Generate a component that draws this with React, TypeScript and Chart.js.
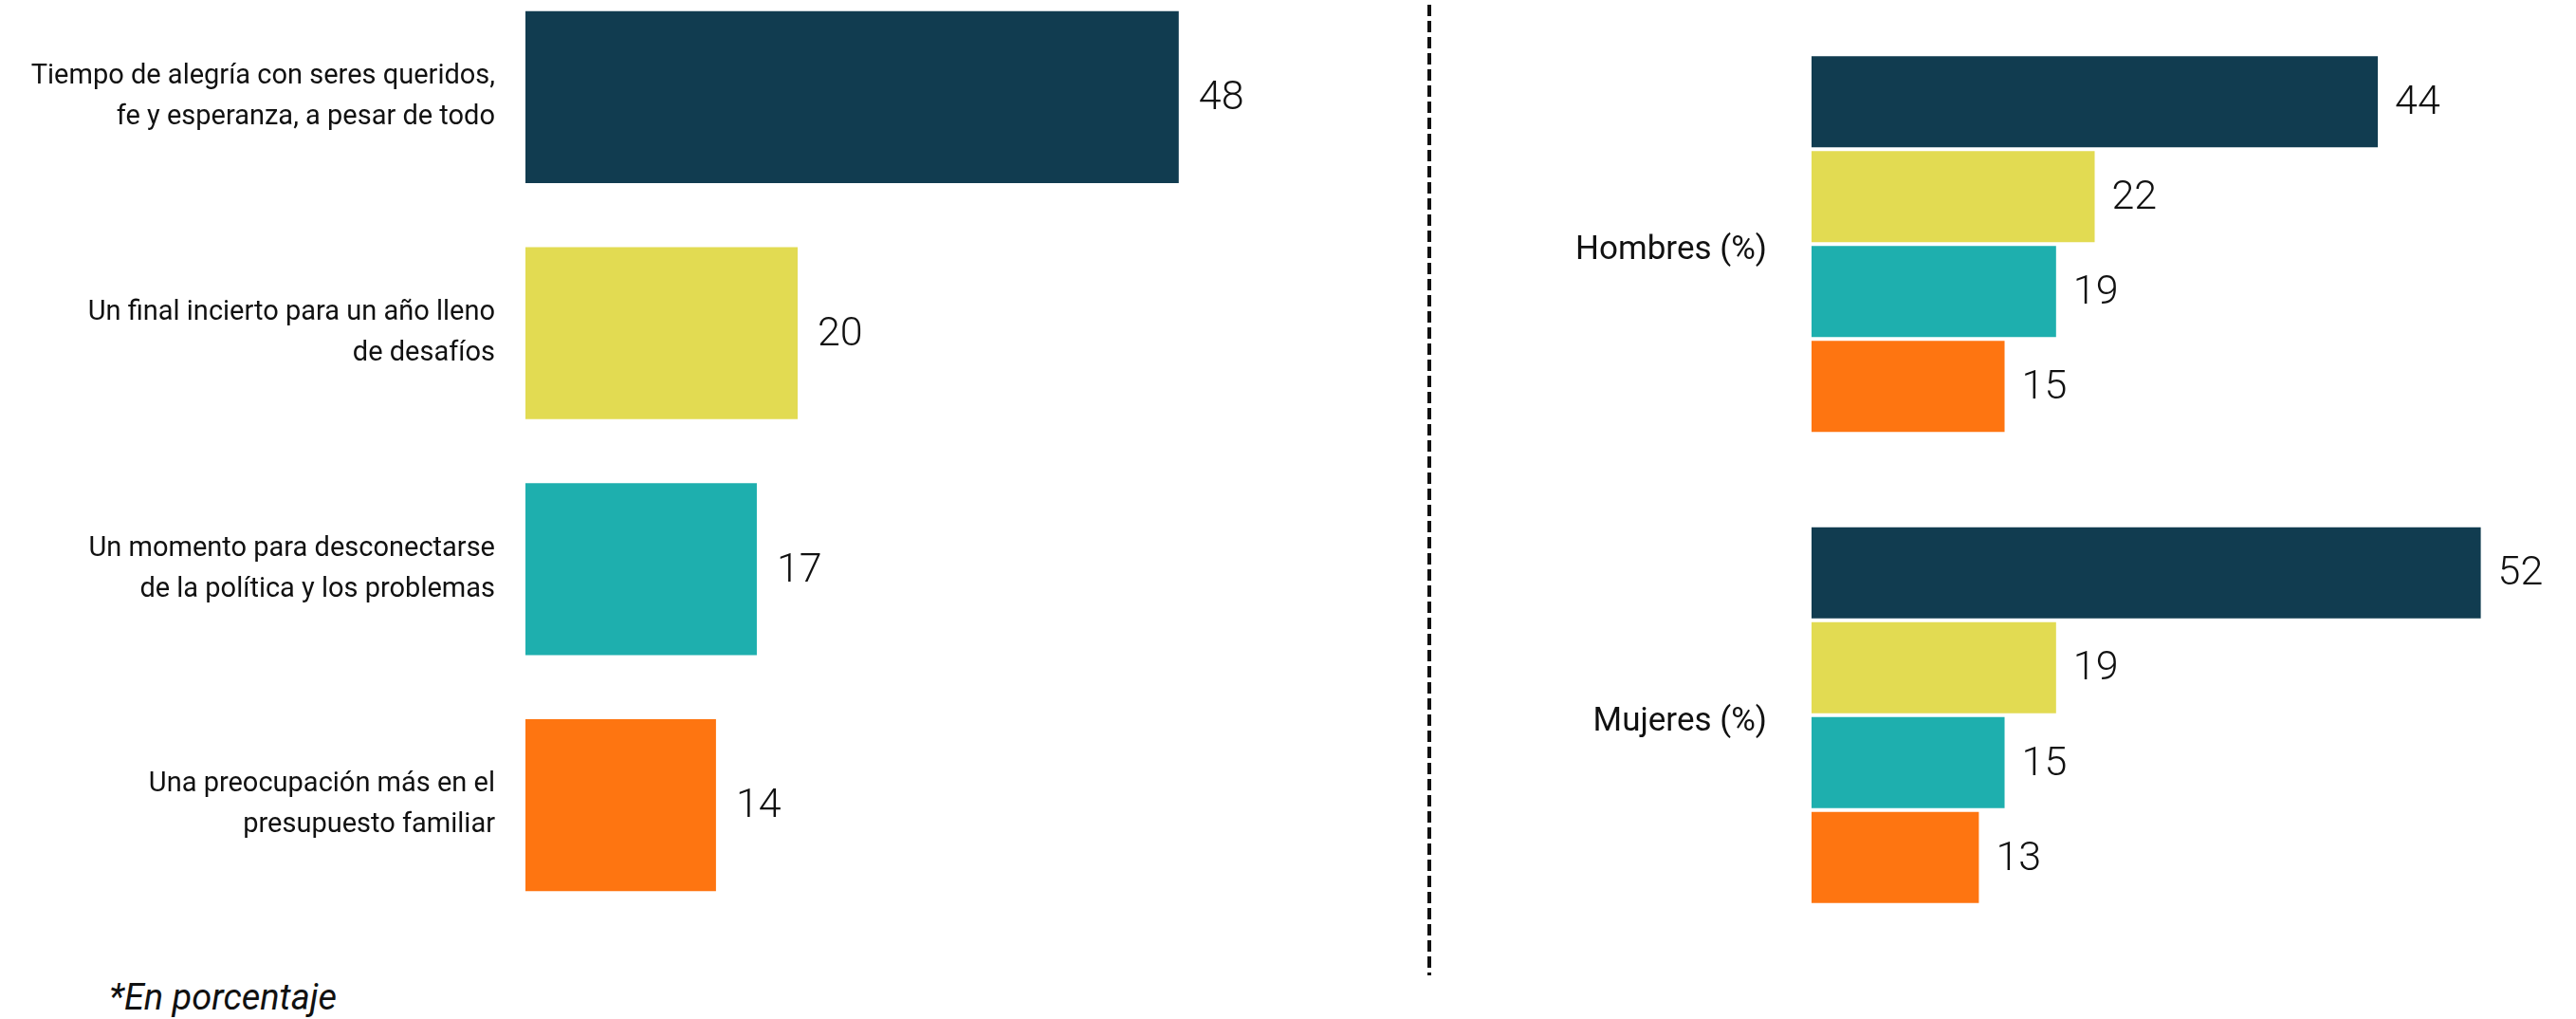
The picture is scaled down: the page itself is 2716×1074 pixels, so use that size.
import React, { useEffect, useRef } from "react";
import { Chart, registerables } from "chart.js";

Chart.register(...registerables);

// ---- data ----
const answerLabels: string[][] = [
  ["Tiempo de alegría con seres queridos,", "fe y esperanza, a pesar de todo"],
  ["Un final incierto para un año lleno", "de desafíos"],
  ["Un momento para desconectarse", "de la política y los problemas"],
  ["Una preocupación más en el", "presupuesto familiar"],
];
const overallValues: number[] = [48, 20, 17, 14];
const groupLabels: string[] = ["Hombres (%)", "Mujeres (%)"];
const menValues: number[] = [44, 22, 19, 15];
const womenValues: number[] = [52, 19, 15, 13];
const seriesColors: string[] = ["#113C50", "#E2DB52", "#1EAFAE", "#FE7511"];
const footnote = "*En porcentaje";

const FONT = "Roboto";

function valueLabelPlugin(id: string, offset: number) {
  return {
    id,
    afterDatasetsDraw(chart: any) {
      const ctx = chart.ctx;
      ctx.save();
      ctx.font = `300 43px ${FONT}`;
      ctx.fillStyle = "#111111";
      ctx.textAlign = "left";
      ctx.textBaseline = "middle";
      chart.data.datasets.forEach((ds: any, di: number) => {
        const meta = chart.getDatasetMeta(di);
        meta.data.forEach((el: any, i: number) => {
          ctx.fillText(String(ds.data[i]), el.x + offset, el.y + 2);
        });
      });
      ctx.restore();
    },
  };
}

const dividerPlugin = {
  id: "divider",
  beforeDraw(chart: any) {
    const ctx = chart.ctx;
    ctx.save();
    ctx.strokeStyle = "#111111";
    ctx.lineWidth = 4;
    ctx.setLineDash([12, 5]);
    ctx.beginPath();
    ctx.moveTo(17, 5);
    ctx.lineTo(17, 1028);
    ctx.stroke();
    ctx.restore();
  },
};

function OverallChart() {
  const ref = useRef<HTMLCanvasElement>(null);
  useEffect(() => {
    if (!ref.current) return;
    const chart = new Chart(ref.current, {
      type: "bar",
      data: {
        labels: answerLabels,
        datasets: [
          {
            data: overallValues,
            backgroundColor: seriesColors,
            borderWidth: 0,
            barPercentage: 0.728,
            categoryPercentage: 1,
          },
        ],
      },
      options: {
        indexAxis: "y",
        responsive: false,
        animation: false,
        layout: { padding: 0 },
        plugins: { legend: { display: false }, tooltip: { enabled: false } },
        scales: {
          x: { display: false, min: 0, max: 60 },
          y: {
            grid: { display: false, drawTicks: false },
            border: { display: false },
            ticks: {
              padding: 32,
              labelOffset: 0,
              color: "#111111",
              font: { family: FONT, size: 29, lineHeight: "43px" },
            },
            afterFit(scale: any) {
              scale.width = 554;
              scale.paddingTop = 0;
              scale.paddingBottom = 0;
            },
          },
        },
      },
      plugins: [valueLabelPlugin("vlLeft", 21)],
    } as any);
    return () => chart.destroy();
  }, []);
  return (
    <canvas
      ref={ref}
      width={1415}
      height={995}
      style={{ position: "absolute", left: 0, top: -22, width: 1415, height: 995 }}
    />
  );
}

function GenderChart() {
  const ref = useRef<HTMLCanvasElement>(null);
  useEffect(() => {
    if (!ref.current) return;
    const chart = new Chart(ref.current, {
      type: "bar",
      data: {
        labels: groupLabels,
        datasets: answerLabels.map((lbl, i) => ({
          label: lbl.join(" "),
          data: [menValues[i], womenValues[i]],
          backgroundColor: seriesColors[i],
          borderWidth: 0,
          barPercentage: 0.96,
          categoryPercentage: 0.806,
        })),
      },
      options: {
        indexAxis: "y",
        responsive: false,
        animation: false,
        layout: { padding: { top: 9, bottom: 33, left: 0, right: 0 } },
        plugins: { legend: { display: false }, tooltip: { enabled: false } },
        scales: {
          x: { display: false, min: 0, max: 58 },
          y: {
            grid: { display: false, drawTicks: false },
            border: { display: false },
            ticks: {
              padding: 47,
              labelOffset: 7,
              color: "#111111",
              font: { family: FONT, size: 35 },
            },
            afterFit(scale: any) {
              scale.width = 420;
              scale.paddingTop = 0;
              scale.paddingBottom = 0;
            },
          },
        },
      },
      plugins: [valueLabelPlugin("vlRight", 18), dividerPlugin],
    } as any);
    return () => chart.destroy();
  }, []);
  return (
    <canvas
      ref={ref}
      width={1207}
      height={1035}
      style={{ position: "absolute", left: 1490, top: 0, width: 1207, height: 1035 }}
    />
  );
}

export default function App() {
  return (
    <div
      style={{
        position: "absolute",
        left: 0,
        top: 0,
        width: 2716,
        height: 1074,
        overflow: "hidden",
        background: "#ffffff",
      }}
    >
      <OverallChart />
      <GenderChart />
      <div
        style={{
          position: "absolute",
          left: 115,
          top: 1032,
          fontFamily: FONT,
          fontStyle: "italic",
          fontSize: 38,
          lineHeight: 1,
          color: "#111111",
          whiteSpace: "nowrap",
        }}
      >
        {footnote}
      </div>
    </div>
  );
}
